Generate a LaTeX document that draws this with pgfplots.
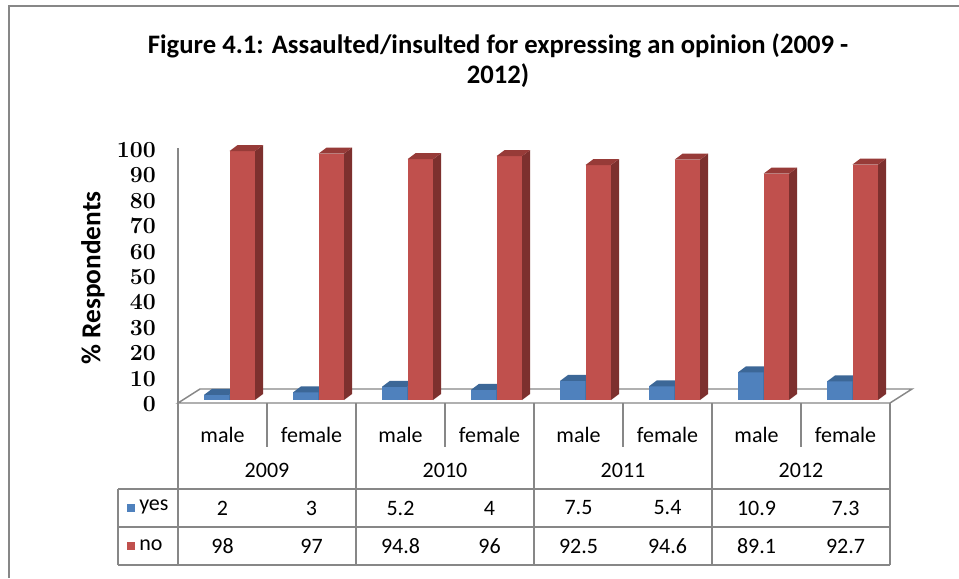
\documentclass[border=0pt]{standalone}
\usepackage{fontspec}
\setmainfont{Carlito}
\usepackage{pgfplots}
\pgfplotsset{compat=1.18}

\definecolor{yesfront}{HTML}{4F81BD}
\definecolor{yestop}{HTML}{3C6797}
\definecolor{yesside}{HTML}{335982}
\definecolor{nofront}{HTML}{C0504D}
\definecolor{notop}{HTML}{973B38}
\definecolor{noside}{HTML}{7D302E}
\definecolor{gridgray}{HTML}{878787}

% one 3-D column: front face, side face and top face;
% #1 shift of the face centre (px), #2 face width (px), #3-#5 colours
% the column height comes from the data value \val (2.54 px per unit)
\newcommand\drawcolumn[5]{%
  \pgfmathsetmacro\bh{\val*2.54*0.75}%
  \pgfmathsetmacro\bl{(#1-#2/2)*0.75}%
  \pgfmathsetmacro\br{(#1+#2/2)*0.75}%
  \pgfmathsetmacro\bll{\bl+6}%
  \pgfmathsetmacro\brr{\br+6}%
  \pgfmathsetmacro\bb{-\bh}%
  \pgfmathsetmacro\bbb{-\bh+4.5}%
  \pgfsetfillcolor{#3}%
  \pgfpathrectanglecorners{\pgfpoint{\bl pt}{\bb pt}}{\pgfpoint{\br pt}{0pt}}%
  \pgfusepathqfill
  \pgfsetfillcolor{#4}%
  \pgfpathmoveto{\pgfpoint{\br pt}{\bb pt}}%
  \pgfpathlineto{\pgfpoint{\brr pt}{\bbb pt}}%
  \pgfpathlineto{\pgfpoint{\brr pt}{4.5pt}}%
  \pgfpathlineto{\pgfpoint{\br pt}{0pt}}%
  \pgfpathclose
  \pgfusepathqfill
  \pgfsetfillcolor{#5}%
  \pgfpathmoveto{\pgfpoint{\bl pt}{0pt}}%
  \pgfpathlineto{\pgfpoint{\br pt}{0pt}}%
  \pgfpathlineto{\pgfpoint{\brr pt}{4.5pt}}%
  \pgfpathlineto{\pgfpoint{\bll pt}{4.5pt}}%
  \pgfpathclose
  \pgfusepathqfill
}
\pgfdeclareplotmark{yescolumn}{\drawcolumn{-5.75}{25.5}{yesfront}{yesside}{yestop}}
\pgfdeclareplotmark{nocolumn}{\drawcolumn{19.75}{25.5}{nofront}{noside}{notop}}

\begin{document}
\begin{tikzpicture}
\begin{scope}[x=0.75pt,y=-0.75pt]
  \path[use as bounding box] (0,0) rectangle (959,578);
  \fill[white] (0,0) rectangle (959,578);
  \draw[gridgray, line width=1.5pt] (9,578) -- (9,6) -- (959,6);

  % title and axis label
  \node[align=center, font=\fontsize{20}{22.5}\selectfont\bfseries]
    at (498,61) {Figure 4.1: Assaulted/insulted for expressing an opinion (2009 -\\2012)};
  \node[rotate=90, font=\fontsize{20.5}{22}\selectfont\bfseries] at (93,278) {\% Respondents};

  % floor of the plot
  \draw[gridgray, line width=1.1pt, fill=white] (178,403) -- (890,403) -- (912,389) -- (200,389) -- cycle;

  % data table grid
  \begin{scope}[gridgray, line width=1.4pt]
    \draw (178,148) -- (178,565);
    \foreach \xx in {356,534,712,890} \draw (\xx,403) -- (\xx,565);
    \foreach \xx in {267,445,623,801} \draw (\xx,403) -- (\xx,447);
    \foreach \yy in {489,527,565} \draw (118,\yy) -- (890,\yy);
    \draw (118,489) -- (118,565);
  \end{scope}

  % category labels
  \begin{scope}[font=\fontsize{16.5}{19}\selectfont]
    \foreach \lab [count=\i from 0] in {male,female,male,female,male,female,male,female}
      \node at (222.5+89*\i,435) {\lab};
    \foreach \yr [count=\j from 0] in {2009,2010,2011,2012}
      \node at (267+178*\j,470) {\yr};
    % table values
    \foreach \v [count=\i from 0] in {2,3,5.2,4,7.5,5.4,10.9,7.3}
      \node at (222.5+89*\i,508) {\v};
    \foreach \v [count=\i from 0] in {98,97,94.8,96,92.5,94.6,89.1,92.7}
      \node at (222.5+89*\i,546) {\v};
    % legend keys
    \fill[yesfront] (127,504) rectangle (135,512);
    \node[anchor=west, inner sep=0pt] at (139,507) {yes};
    \fill[nofront] (127,542) rectangle (135,550);
    \node[anchor=west, inner sep=0pt] at (139,545) {no};
  \end{scope}
\end{scope}

\begin{axis}[
  at={(133.5pt,-300pt)}, anchor=south west,
  scale only axis, width=534pt, height=190.5pt,
  xmin=-0.5, xmax=7.5, ymin=0, ymax=100,
  axis line style={draw=none},
  xtick=\empty,
  ytick={0,10,...,100},
  major tick length=0pt,
  yticklabel style={font=\boldmath\fontsize{16}{19}\selectfont, anchor=east,
    inner sep=0pt, xshift=-16.5pt, yshift=-3pt},
  clip=false,
]
\addplot[scatter, only marks, mark=yescolumn,
  scatter/@pre marker code/.code={}, scatter/@post marker code/.code={},
  visualization depends on={rawy \as \val}]
  coordinates {(0,2) (1,3) (2,5.2) (3,4) (4,7.5) (5,5.4) (6,10.9) (7,7.3)};
\addplot[scatter, only marks, mark=nocolumn,
  scatter/@pre marker code/.code={}, scatter/@post marker code/.code={},
  visualization depends on={rawy \as \val}]
  coordinates {(0,98) (1,97) (2,94.8) (3,96) (4,92.5) (5,94.6) (6,89.1) (7,92.7)};
\end{axis}
\end{tikzpicture}
\end{document}
